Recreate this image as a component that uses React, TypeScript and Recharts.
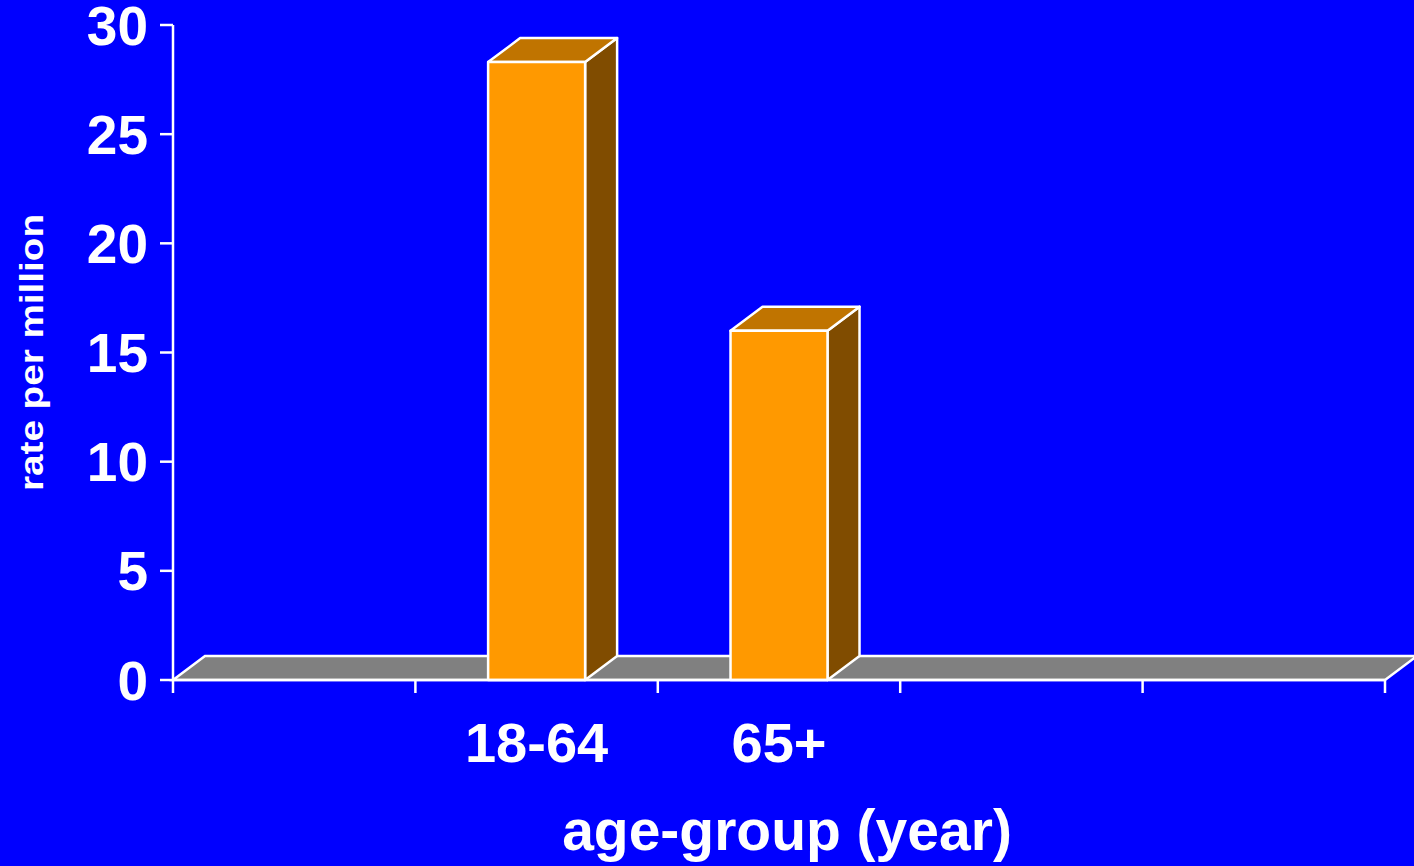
import { Bar, BarChart, Label, ReferenceArea, XAxis, YAxis } from "recharts";

const categories = ["", "18-64", "65+", "", ""];
const rates: (number | null)[] = [null, 28.3, 16.0, null, null];
const yTicks = [0, 5, 10, 15, 20, 25, 30];
const edgeTicks = [0, 1, 2, 3, 4, 5];

const data = categories.map((age, i) => ({ age, rate: rates[i] }));

const FONT = '"Liberation Sans", Arial, sans-serif';
const DX = 32;
const DY = 24;

function Bar3D(props: any) {
  const { x, y, width, height } = props;
  if (height == null || height <= 0) return null;
  return (
    <g stroke="#ffffff" strokeWidth={2.5} strokeLinejoin="round">
      <polygon
        points={`${x + width},${y} ${x + width + DX},${y - DY} ${x + width + DX},${y + height - DY} ${x + width},${y + height}`}
        fill="#804c00"
      />
      <polygon
        points={`${x},${y} ${x + DX},${y - DY} ${x + width + DX},${y - DY} ${x + width},${y}`}
        fill="#c07400"
      />
      <rect x={x} y={y} width={width} height={height} fill="#ff9900" />
    </g>
  );
}

function Floor(props: any) {
  const { x, y, width, height } = props;
  const base = y + (height || 0);
  return (
    <polygon
      points={`${x},${base} ${x + DX},${base - DY} ${x + width + DX},${base - DY} ${x + width},${base}`}
      fill="#808080"
      stroke="#ffffff"
      strokeWidth={2.5}
    />
  );
}

export default function App() {
  return (
    <div style={{ position: "fixed", left: 0, top: 0, width: 1414, height: 866, background: "#0000ff" }}>
      <BarChart
        width={1414}
        height={866}
        data={data}
        margin={{ top: 25, right: 29, left: 0, bottom: 0 }}
        barCategoryGap="30%"
      >
        <XAxis
          xAxisId="cat"
          dataKey="age"
          height={185}
          axisLine={false}
          tickLine={false}
          tickSize={0}
          tickMargin={41}
          interval={0}
          tick={{ fill: "#ffffff", fontSize: 56, fontWeight: "bold", fontFamily: FONT }}
        >
          <Label
            content={({ viewBox }: any) => (
              <text
                x={viewBox.x + viewBox.width / 2 + 8}
                y={viewBox.y + 169}
                textAnchor="middle"
                fill="#ffffff"
                fontSize={57}
                fontWeight="bold"
                fontFamily={FONT}
              >
                age-group (year)
              </text>
            )}
          />
        </XAxis>
        <XAxis
          xAxisId={0}
          dataKey="edge"
          type="number"
          domain={[0, 5]}
          ticks={edgeTicks}
          interval={0}
          allowDataOverflow
          height={1}
          tickSize={13}
          tickFormatter={() => ""}
          axisLine={{ stroke: "#ffffff", strokeWidth: 2.5 }}
          tickLine={{ stroke: "#ffffff", strokeWidth: 2.5 }}
        />
        <YAxis
          width={173}
          domain={[0, 30]}
          ticks={yTicks}
          interval={0}
          tickSize={13}
          tickMargin={12}
          axisLine={{ stroke: "#ffffff", strokeWidth: 2.5 }}
          tickLine={{ stroke: "#ffffff", strokeWidth: 2.5 }}
          tick={{ fill: "#ffffff", fontSize: 55, fontWeight: "bold", fontFamily: FONT }}
        >
          <Label
            content={({ viewBox }: any) => (
              <text
                transform={`translate(${viewBox.x + 43}, ${viewBox.y + viewBox.height / 2}) rotate(-90)`}
                textAnchor="middle"
                fill="#ffffff"
                fontSize={33}
                fontWeight="bold"
                fontFamily={FONT}
                textLength={277}
                lengthAdjust="spacingAndGlyphs"
              >
                rate per million
              </text>
            )}
          />
        </YAxis>
        <ReferenceArea xAxisId="cat" y1={0} y2={0} ifOverflow="visible" shape={Floor} />
        <Bar xAxisId="cat" dataKey="rate" shape={Bar3D} isAnimationActive={false} />
      </BarChart>
    </div>
  );
}
